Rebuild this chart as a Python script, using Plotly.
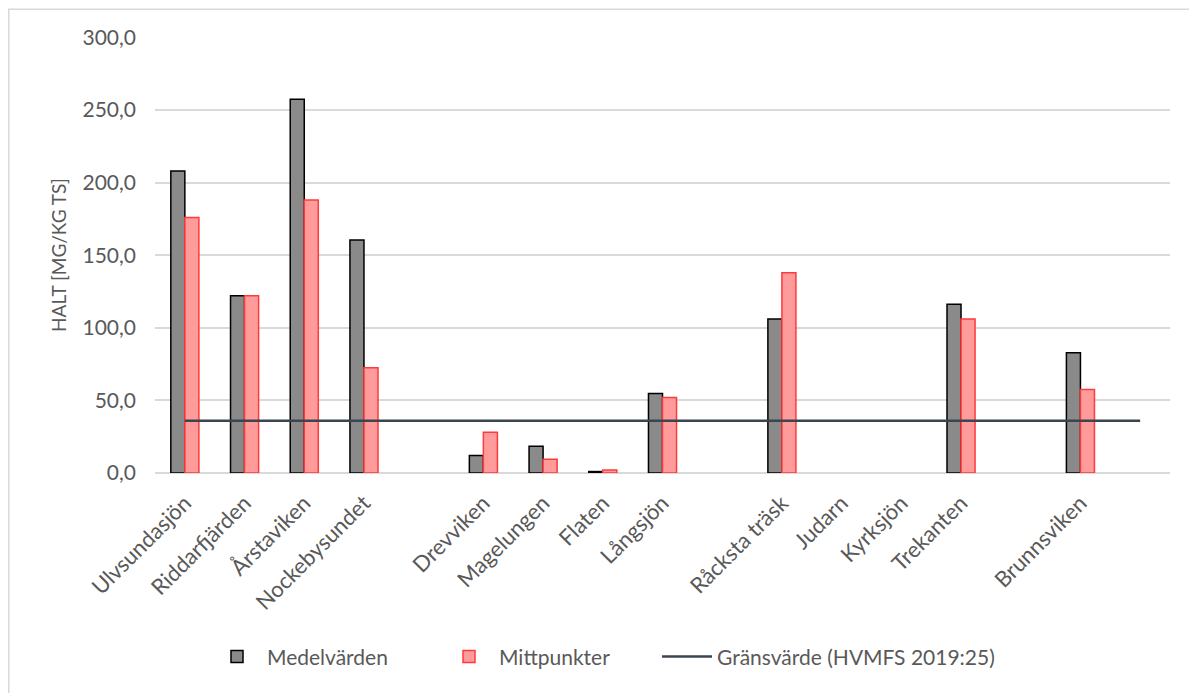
import plotly.graph_objects as go

categories = ["Ulvsundasjön", "Riddarfjärden", "Årstaviken", "Nockebysundet", "",
              "Drevviken", "Magelungen", "Flaten", "Långsjön", "",
              "Råcksta träsk", "Judarn", "Kyrksjön", "Trekanten", "",
              "Brunnsviken", ""]
medelvarden = [208.0, 122.0, 257.5, 160.5, None,
               12.0, 18.5, 1.0, 54.8, None,
               106.0, None, None, 116.3, None,
               82.8, None]
mittpunkter = [176.0, 122.0, 188.0, 72.5, None,
               28.0, 9.5, 2.0, 52.0, None,
               138.0, None, None, 106.0, None,
               57.5, None]
gransvarde = [36.0, 36.0, 36.0, 36.0, 36.0,
              36.0, 36.0, 36.0, 36.0, 36.0,
              36.0, 36.0, 36.0, 36.0, 36.0,
              36.0, 36.0]
y_ticks = [0, 50, 100, 150, 200, 250, 300]

xpos = list(range(len(categories)))
FONT = "Lato, Carlito, Calibri, sans-serif"
GREY_TXT = "#595959"

fig = go.Figure()
fig.add_trace(go.Bar(
    x=xpos, y=medelvarden, name="Medelvärden", legend="legend",
    marker=dict(color="#8a8a8a", line=dict(color="#000000", width=1.5)),
))
fig.add_trace(go.Bar(
    x=xpos, y=mittpunkter, name="Mittpunkter", legend="legend2",
    marker=dict(color="#ff9b9b", line=dict(color="#ff3a3a", width=1.5)),
))
fig.add_trace(go.Scatter(
    x=xpos, y=gransvarde, name="Gränsvärde (HVMFS 2019:25)", legend="legend3",
    mode="lines", line=dict(color="#3b4550", width=2.5),
))

# page body has an 8px margin; work in page pixels and offset
OFF = 8
W, H = 1197 - OFF, 693 - OFF
PL, PR, PT, PB = 155, 1170, 36.5, 473  # plot area in page pixels
L, R, T, B = PL - OFF, (1197 - PR), PT - OFF, 693 - PB
pw, ph = W - L - R, H - T - B

def px_x(p):
    return (p - OFF - L) / pw

def px_y(p):
    return (H - B - (p - OFF)) / ph

fig.add_shape(type="rect", xref="paper", yref="paper",
              x0=px_x(8.8), x1=px_x(1260), y0=px_y(760), y1=px_y(8.8),
              line=dict(color="#d9d9d9", width=1.5), fillcolor="rgba(0,0,0,0)",
              layer="below")

def legend_at(px):
    return dict(orientation="h", x=px_x(px), xanchor="left",
                y=px_y(657), yanchor="middle",
                font=dict(size=21, color=GREY_TXT, family=FONT),
                itemwidth=50, bgcolor="rgba(0,0,0,0)")

fig.update_layout(
    width=W, height=H,
    margin=dict(l=L, r=R, t=T, b=B),
    paper_bgcolor="white", plot_bgcolor="white",
    font=dict(family=FONT, color=GREY_TXT, size=21),
    separators=", ",
    barmode="group", bargap=0.53, bargroupgap=0,
    showlegend=True,
    legend=legend_at(207),
    legend2=legend_at(439),
    legend3=legend_at(657),
    xaxis=dict(
        range=[-0.5, len(categories) - 0.5],
        tickmode="array", tickvals=xpos, ticktext=categories,
        tickangle=-45, showgrid=False, zeroline=False,
        showline=False, ticks="", ticklabelstandoff=12,
        tickfont=dict(size=22, color=GREY_TXT, family=FONT),
    ),
    yaxis=dict(
        range=[0, 300.3], tickmode="array", tickvals=y_ticks,
        tickformat=".1f", showgrid=True, gridcolor="#d9d9d9", gridwidth=1.5,
        zeroline=True, zerolinecolor="#d9d9d9", zerolinewidth=1.5,
        showline=False, ticks="", ticklabelstandoff=18,
        tickfont=dict(size=21, color=GREY_TXT, family=FONT),
        title=dict(text="HALT [MG/KG TS]", standoff=10,
                   font=dict(size=19, color=GREY_TXT, family=FONT)),
    ),
)

fig.write_html("out.html")
